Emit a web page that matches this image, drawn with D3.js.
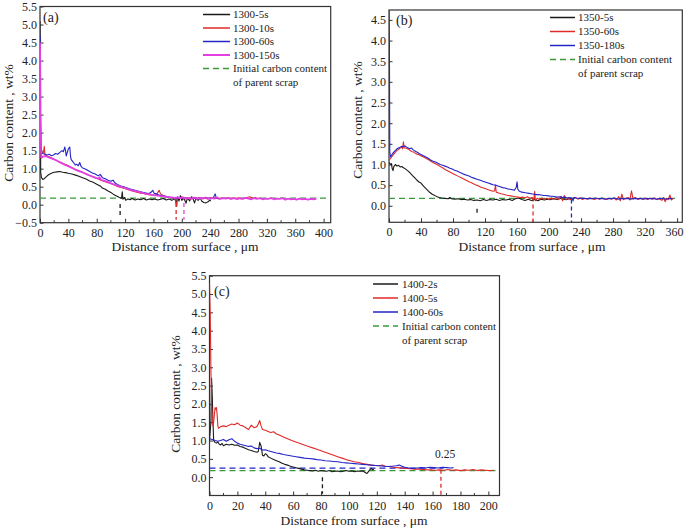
<!DOCTYPE html>
<html><head><meta charset="utf-8">
<script src="https://cdn.jsdelivr.net/npm/d3@7"></script>
<style>body{margin:0;background:#fff}svg{display:block}svg text{font-family:"Liberation Serif","DejaVu Serif","Times New Roman",serif !important;fill:#222}</style>
</head><body><svg id="c" width="685" height="528"></svg>
<script>
// ---------- tick labels ----------
const xTicksA = [0,40,80,120,160,200,240,280,320,360,400];
const xTicksB = [0,40,80,120,160,200,240,280,320,360];
const xTicksC = [0,20,40,60,80,100,120,140,160,180,200];
const yTicksA = [-0.5,0.0,0.5,1.0,1.5,2.0,2.5,3.0,3.5,4.0,4.5,5.0,5.5];
const yTicksB = [0.0,0.5,1.0,1.5,2.0,2.5,3.0,3.5,4.0,4.5];
const yTicksC = [0.0,0.5,1.0,1.5,2.0,2.5,3.0,3.5,4.0,4.5,5.0,5.5];

// ---------- series names ----------
const namesA = ["1300-5s","1300-10s","1300-60s","1300-150s"];
const namesB = ["1350-5s","1350-60s","1350-180s"];
const namesC = ["1400-2s","1400-5s","1400-60s"];
const initialLabel = ["Initial carbon content","of parent scrap"];
const initialCarbon = 0.18;
const refLevelC = 0.25;

// ---------- panel (a) data ----------
const a5s = [[0,5.1],[0.5,3.0],[1,0.9],[2,0.75],[4,0.7],[6,0.72],[9,0.78],[12,0.83],[16,0.87],[20,0.9],[24,0.91],[28,0.92],[32,0.9],[36,0.89],[40,0.87],[45,0.85],[50,0.82],[55,0.79],[60,0.75],[65,0.71],[70,0.66],[75,0.62],[80,0.57],[85,0.52],[88,0.46],[92,0.43],[96,0.38],[100,0.34],[104,0.28],[108,0.24],[112,0.2],[115,0.18],[116,0.36],[117,0.15],[119,0.2],[121,0.12],[124,0.16],[127,0.14],[130,0.17],[134,0.13],[138,0.16],[142,0.14],[146,0.17],[150,0.13],[154,0.16],[158,0.14],[162,0.16],[166,0.13],[170,0.15],[174,0.17],[178,0.13],[182,0.16],[186,0.12],[190,0.17],[192,0.05],[194,0.22],[196,0.1],[198,0.25],[200,0.12],[203,0.18],[206,0.04],[208,0.2],[211,0.1],[214,0.22],[216,0.15],[218,0.05],[220,0.18],[223,0.12],[226,0.2],[228,0.1],[231,0.06],[234,0.05],[237,0.08],[239,0.12],[241,0.1]];
const a10s = [[0,1.3],[0.5,2.8],[1.2,2.0],[2,1.5],[3,1.42],[5,1.45],[6,1.62],[7,1.38],[10,1.35],[14,1.32],[18,1.28],[22,1.24],[26,1.2],[30,1.16],[34,1.13],[38,1.1],[42,1.06],[46,1.02],[50,0.98],[54,0.95],[58,0.92],[62,0.88],[66,0.85],[70,0.81],[74,0.78],[78,0.74],[82,0.72],[86,0.68],[90,0.65],[94,0.62],[98,0.6],[102,0.57],[106,0.54],[110,0.5],[114,0.48],[118,0.46],[122,0.43],[126,0.41],[130,0.38],[134,0.36],[138,0.34],[142,0.32],[146,0.31],[150,0.29],[154,0.28],[158,0.27],[162,0.26],[165,0.3],[168,0.4],[170,0.3],[173,0.26],[176,0.24],[180,0.21],[184,0.2],[188,0.19],[191,0.16],[192,0.0],[193,-0.05],[194,0.2],[197,0.17],[200,0.22],[204,0.16],[208,0.2],[212,0.15],[216,0.19],[220,0.16],[224,0.2],[228,0.17],[232,0.19],[236,0.16],[240,0.2],[244,0.17],[248,0.19],[252,0.16],[256,0.18],[260,0.17],[264,0.19],[268,0.16],[272,0.18],[276,0.17],[280,0.19],[284,0.16],[288,0.18],[292,0.2],[296,0.22],[300,0.17],[304,0.2],[306,0.18]];
const a60s = [[0,4.7],[0.5,3.0],[1,1.7],[2,1.45],[4,1.42],[7,1.4],[10,1.38],[13,1.4],[16,1.36],[19,1.38],[22,1.42],[25,1.4],[28,1.45],[31,1.5],[33,1.47],[35,1.6],[36,1.5],[37,1.35],[38,1.42],[40,1.55],[42,1.6],[43,1.35],[44,1.25],[46,1.2],[48,1.15],[50,1.1],[52,1.12],[54,1.08],[56,1.17],[58,1.06],[60,1.02],[63,1.0],[66,0.97],[70,0.92],[74,0.88],[78,0.85],[82,0.8],[85,0.84],[88,0.75],[92,0.72],[96,0.68],[100,0.65],[103,0.68],[106,0.6],[110,0.55],[114,0.52],[118,0.5],[122,0.47],[126,0.44],[130,0.42],[134,0.4],[138,0.38],[142,0.36],[146,0.34],[150,0.32],[154,0.31],[157,0.35],[159,0.4],[161,0.32],[164,0.3],[168,0.27],[172,0.25],[176,0.23],[180,0.21],[184,0.2],[188,0.19],[192,0.18],[196,0.19],[200,0.17],[204,0.19],[208,0.16],[212,0.18],[216,0.17],[220,0.19],[224,0.16],[228,0.18],[232,0.17],[236,0.19],[240,0.16],[244,0.18],[247,0.3],[249,0.17],[252,0.18]];
const a150s = [[0,4.5],[0.4,3.5],[0.8,2.2],[1.5,1.5],[2,1.3],[4,1.33],[7,1.35],[10,1.33],[14,1.3],[18,1.27],[22,1.24],[26,1.2],[30,1.16],[34,1.12],[38,1.08],[42,1.05],[46,1.01],[50,0.97],[54,0.94],[58,0.91],[62,0.88],[66,0.84],[70,0.81],[74,0.78],[78,0.75],[82,0.72],[84,0.76],[86,0.69],[90,0.67],[94,0.64],[98,0.61],[102,0.58],[106,0.55],[110,0.52],[114,0.5],[118,0.47],[122,0.45],[126,0.42],[130,0.4],[134,0.38],[138,0.36],[142,0.34],[146,0.32],[150,0.3],[154,0.29],[158,0.27],[162,0.26],[166,0.25],[170,0.24],[174,0.23],[178,0.22],[182,0.21],[186,0.2],[190,0.19],[194,0.2],[198,0.18],[202,0.2],[206,0.17],[210,0.19],[214,0.17],[218,0.2],[222,0.16],[226,0.19],[230,0.17],[234,0.2],[238,0.16],[242,0.19],[246,0.17],[250,0.2],[254,0.16],[258,0.18],[262,0.17],[266,0.19],[270,0.16],[274,0.18],[278,0.15],[282,0.18],[286,0.16],[290,0.19],[294,0.17],[298,0.15],[302,0.18],[306,0.16],[310,0.18],[314,0.15],[318,0.17],[322,0.16],[326,0.18],[330,0.15],[334,0.17],[338,0.16],[342,0.18],[346,0.14],[350,0.17],[354,0.15],[358,0.16],[362,0.14],[366,0.17],[370,0.15],[374,0.16],[378,0.14],[382,0.16],[386,0.15],[390,0.17]];
const markersA = [113,192,203];

// ---------- panel (b) data ----------
const b5s = [[0,1.05],[2,1.0],[3,1.02],[4,0.9],[5,0.85],[6,0.95],[8,1.0],[10,0.96],[12,0.98],[14,0.94],[16,0.95],[18,0.92],[20,0.9],[22,0.87],[24,0.84],[26,0.8],[28,0.76],[30,0.72],[32,0.68],[34,0.64],[36,0.6],[38,0.57],[40,0.55],[42,0.5],[44,0.46],[46,0.42],[48,0.38],[50,0.34],[52,0.31],[54,0.28],[56,0.26],[58,0.24],[60,0.22],[63,0.2],[66,0.19],[70,0.18],[74,0.17],[76,0.2],[78,0.17],[82,0.16],[86,0.17],[90,0.15],[94,0.16],[98,0.14],[102,0.15],[106,0.13],[110,0.14],[114,0.12],[118,0.15],[122,0.13],[126,0.15],[130,0.14],[134,0.16],[138,0.13],[142,0.15],[146,0.14],[150,0.16],[154,0.13],[158,0.17],[162,0.19],[166,0.15],[170,0.13],[174,0.16],[178,0.13],[182,0.15],[186,0.12],[190,0.16],[194,0.14],[198,0.16],[202,0.15],[206,0.17],[210,0.15],[214,0.18],[218,0.16],[222,0.15],[226,0.17],[230,0.16]];
const b60s = [[0,1.1],[2,1.15],[4,1.2],[6,1.25],[8,1.3],[10,1.34],[12,1.37],[14,1.4],[16,1.42],[17,1.38],[18,1.55],[19,1.4],[21,1.4],[23,1.38],[25,1.36],[27,1.33],[29,1.31],[31,1.3],[33,1.27],[35,1.25],[37,1.24],[39,1.22],[41,1.2],[43,1.18],[46,1.15],[49,1.12],[52,1.08],[55,1.05],[58,1.02],[61,0.99],[64,0.95],[67,0.92],[70,0.88],[73,0.85],[76,0.82],[79,0.79],[82,0.76],[85,0.73],[88,0.7],[91,0.67],[94,0.64],[97,0.61],[100,0.58],[103,0.56],[106,0.53],[109,0.5],[112,0.48],[115,0.45],[118,0.43],[121,0.41],[124,0.39],[127,0.37],[130,0.35],[132,0.36],[133,0.5],[134,0.33],[137,0.31],[140,0.29],[143,0.28],[146,0.26],[149,0.25],[152,0.24],[155,0.23],[158,0.22],[161,0.21],[164,0.2],[167,0.21],[170,0.19],[173,0.22],[176,0.18],[179,0.2],[181,0.14],[182,0.35],[183,0.12],[185,0.18],[188,0.15],[191,0.19],[194,0.16],[197,0.18],[200,0.15],[203,0.19],[206,0.16],[209,0.2],[212,0.15],[215,0.23],[217,0.12],[219,0.25],[221,0.15],[224,0.19],[227,0.15],[230,0.18],[233,0.2],[236,0.16],[239,0.19],[242,0.15],[245,0.18],[248,0.16],[251,0.19],[254,0.17],[257,0.15],[260,0.18],[263,0.16],[266,0.19],[269,0.17],[272,0.15],[275,0.18],[278,0.16],[281,0.19],[284,0.14],[287,0.22],[289,0.12],[291,0.28],[293,0.15],[296,0.18],[299,0.2],[301,0.14],[303,0.36],[305,0.16],[308,0.2],[311,0.15],[314,0.18],[317,0.16],[320,0.19],[323,0.15],[326,0.18],[329,0.16],[332,0.19],[335,0.15],[338,0.17],[341,0.13],[343,0.2],[345,0.1],[347,0.18],[349,0.15],[351,0.26],[353,0.14],[355,0.18]];
const b180s = [[0,4.75],[0.5,4.0],[1,1.3],[2,1.18],[4,1.25],[6,1.3],[8,1.34],[10,1.38],[12,1.4],[14,1.42],[16,1.44],[18,1.43],[20,1.45],[22,1.42],[24,1.4],[26,1.38],[28,1.4],[30,1.36],[32,1.33],[34,1.31],[36,1.29],[38,1.26],[40,1.24],[43,1.21],[46,1.18],[49,1.15],[52,1.11],[55,1.08],[58,1.06],[61,1.03],[64,1.0],[67,0.98],[70,0.96],[73,0.94],[76,0.91],[79,0.89],[82,0.86],[85,0.84],[88,0.81],[91,0.79],[94,0.76],[97,0.74],[100,0.72],[103,0.69],[106,0.67],[109,0.65],[112,0.63],[115,0.61],[118,0.59],[121,0.57],[124,0.55],[127,0.53],[130,0.51],[133,0.5],[136,0.48],[139,0.46],[142,0.44],[145,0.43],[148,0.41],[151,0.4],[154,0.39],[157,0.38],[159,0.45],[160,0.58],[161,0.4],[163,0.35],[166,0.33],[169,0.32],[172,0.31],[175,0.3],[178,0.29],[181,0.28],[184,0.27],[187,0.27],[190,0.26],[193,0.25],[196,0.25],[199,0.24],[202,0.23],[205,0.23],[208,0.22],[211,0.21],[214,0.22],[217,0.2],[220,0.21],[223,0.19],[226,0.2],[229,0.18],[230,0.12],[231,0.2],[234,0.19],[238,0.18],[242,0.19],[246,0.17],[250,0.18],[254,0.17],[258,0.19],[262,0.17],[266,0.18],[270,0.16],[274,0.18],[278,0.17],[282,0.19],[286,0.16],[290,0.18],[294,0.17],[298,0.18],[302,0.16],[306,0.18],[310,0.17],[314,0.18],[318,0.16],[322,0.18],[326,0.17],[330,0.18],[334,0.16],[338,0.18],[342,0.17],[346,0.16],[350,0.18],[354,0.17]];
const markersB = [110,180,228];

// ---------- panel (c) data ----------
const c2s = [[0,1.0],[1,1.5],[1.5,2.7],[2,2.2],[2.5,1.5],[3,1.0],[4,0.95],[5,0.93],[6,0.96],[7,0.9],[8,0.88],[9,0.92],[10,0.86],[12,0.9],[14,0.88],[16,0.9],[18,0.87],[20,0.88],[22,0.84],[24,0.82],[26,0.78],[28,0.75],[30,0.73],[32,0.7],[34,0.68],[35,0.7],[36,0.95],[37,0.85],[38,0.6],[39,0.58],[40,0.64],[41,0.62],[42,0.56],[44,0.52],[46,0.48],[48,0.45],[50,0.42],[52,0.38],[54,0.35],[56,0.33],[58,0.3],[60,0.28],[62,0.26],[64,0.24],[66,0.22],[68,0.2],[70,0.19],[72,0.18],[74,0.17],[76,0.19],[78,0.16],[80,0.18],[82,0.17],[84,0.16],[86,0.18],[88,0.15],[90,0.16],[92,0.17],[94,0.15],[96,0.16],[98,0.18],[100,0.16],[102,0.17],[104,0.15],[106,0.17],[108,0.16],[110,0.17],[112,0.12],[113,0.1],[114,0.15],[115,0.2],[116,0.24],[117,0.2],[118,0.22]];
const c5s = [[0,5.3],[0.5,4.5],[1,3.0],[1.5,2.0],[2,1.5],[2.5,1.4],[3,1.5],[3.5,1.7],[4,1.9],[4.5,1.85],[5,1.9],[5.5,1.7],[6,1.4],[6.5,1.33],[8,1.38],[10,1.4],[12,1.38],[14,1.42],[16,1.45],[18,1.43],[20,1.48],[22,1.42],[24,1.4],[26,1.35],[28,1.3],[30,1.42],[32,1.35],[34,1.38],[35,1.45],[36,1.55],[37,1.4],[38,1.3],[40,1.28],[42,1.25],[44,1.22],[46,1.24],[48,1.18],[50,1.15],[53,1.1],[56,1.05],[59,1.0],[62,0.96],[65,0.92],[68,0.88],[71,0.84],[74,0.8],[77,0.76],[80,0.72],[83,0.68],[86,0.64],[89,0.6],[92,0.56],[95,0.52],[98,0.48],[101,0.45],[104,0.42],[107,0.4],[110,0.37],[113,0.35],[116,0.33],[119,0.32],[122,0.31],[124,0.33],[126,0.3],[129,0.29],[132,0.27],[135,0.26],[138,0.25],[141,0.24],[144,0.23],[147,0.22],[150,0.22],[153,0.21],[156,0.2],[159,0.2],[162,0.19],[165,0.2],[168,0.19],[171,0.21],[174,0.19],[177,0.2],[180,0.18],[183,0.2],[186,0.19],[189,0.21],[192,0.18],[195,0.2],[198,0.19],[201,0.18],[204,0.19]];
const c60s = [[0,1.05],[2,1.03],[4,1.0],[6,0.98],[8,1.0],[10,1.03],[12,0.98],[14,1.02],[16,1.05],[18,0.98],[20,0.93],[22,0.9],[24,0.88],[26,0.86],[28,0.84],[30,0.85],[32,0.8],[34,0.78],[36,0.79],[38,0.74],[40,0.75],[42,0.72],[44,0.7],[46,0.68],[48,0.66],[50,0.65],[53,0.62],[56,0.6],[59,0.58],[62,0.56],[65,0.54],[68,0.52],[71,0.51],[74,0.5],[77,0.48],[80,0.47],[83,0.45],[86,0.44],[89,0.43],[92,0.42],[95,0.4],[98,0.39],[101,0.38],[104,0.37],[107,0.36],[110,0.35],[113,0.34],[116,0.33],[119,0.32],[122,0.31],[125,0.3],[128,0.29],[131,0.3],[134,0.31],[136,0.33],[138,0.3],[140,0.27],[143,0.25],[146,0.24],[149,0.25],[152,0.26],[155,0.25],[158,0.27],[161,0.26],[164,0.25],[167,0.27],[170,0.26],[173,0.25],[175,0.26]];
const markersC = [81,166];

// ---------- styling ----------
const BLACK="#1a1a1a", RED="#e02a2a", BLUE="#2424c8", MAG="#e33fe3", GREEN="#3a9a3a";
const FONT = '"Liberation Serif","DejaVu Serif","Times New Roman",serif';
const svg = d3.select("#c").attr("font-family",FONT);

function txt(sel,size){ return sel.attr("font-family",FONT).style("font-family",FONT).style("font-size",size+"px"); }

function panel(o){
  const x = d3.scaleLinear().domain(o.xd).range([o.l,o.r]);
  const y = d3.scaleLinear().domain(o.yd).range([o.b,o.t]);
  const g = svg.append("g");
  g.append("rect").attr("x",o.l).attr("y",o.t).attr("width",o.r-o.l).attr("height",o.b-o.t)
    .attr("fill","none").attr("stroke","#333").attr("stroke-width",1.2);
  const xa = d3.axisBottom(x).tickValues(o.xt).tickSize(-4).tickFormat(d=>d);
  const gx = g.append("g").attr("transform",`translate(0,${o.b})`).call(xa);
  gx.attr("font-family",FONT);
  gx.select(".domain").remove();
  txt(gx.selectAll("text").attr("dy",null).attr("y",14),12);
  if(o.lastDx) gx.selectAll("text").filter((d,i,n)=>i===n.length-1).attr("dx",o.lastDx);
  gx.selectAll("line").attr("stroke","#333");
  const minor = [];
  for(let i=0;i<o.xt.length-1;i++) minor.push((o.xt[i]+o.xt[i+1])/2);
  g.selectAll(null).data(minor).enter().append("line")
    .attr("x1",d=>x(d)).attr("x2",d=>x(d)).attr("y1",o.b).attr("y2",o.b-2.5).attr("stroke","#333");
  const ya = d3.axisLeft(y).tickValues(o.yt).tickSize(-3.5).tickFormat(d3.format(".1f"));
  const gy = g.append("g").attr("transform",`translate(${o.l},0)`).call(ya);
  gy.attr("font-family",FONT);
  gy.select(".domain").remove();
  txt(gy.selectAll("text").attr("x",-3),12);
  gy.selectAll("line").attr("stroke","#333");
  txt(g.append("text").attr("x",o.xtx).attr("y",o.xty).attr("text-anchor","middle"),13.5)
    .text("Distance from surface , μm");
  txt(g.append("text").attr("transform",`translate(${o.ytx},${o.yty}) rotate(-90)`).attr("text-anchor","middle")
    .attr("dy","0.35em"),13.5).text("Carbon content , wt%");
  txt(g.append("text").attr("x",o.lab[0]).attr("y",o.lab[1]),14).text(o.label);
  const cid = "clip"+o.label.replace(/\W/g,"");
  svg.append("clipPath").attr("id",cid).append("rect").attr("x",o.l).attr("y",o.t).attr("width",o.r-o.l).attr("height",o.b-o.t);
  const plot = g.append("g").attr("clip-path",`url(#${cid})`);
  const line = d3.line().x(d=>x(d[0])).y(d=>y(d[1]));
  plot.append("line").attr("x1",x(0)).attr("x2",x(o.greenEnd)).attr("y1",y(initialCarbon)).attr("y2",y(initialCarbon))
    .attr("stroke",GREEN).attr("stroke-width",1.3).attr("stroke-dasharray","6,4");
  o.markers.forEach((m,i)=>{
    plot.append("line").attr("x1",x(m)).attr("x2",x(m)).attr("y1",y(o.mTop[i])).attr("y2",y(o.mBot[i]))
      .attr("stroke",o.mCol[i]).attr("stroke-width",1.3).attr("stroke-dasharray","4,3");
  });
  if(o.extra) o.extra(plot,x,y);
  o.series.forEach(s=>{
    plot.append("path").datum(s.d).attr("d",line).attr("fill","none").attr("stroke",s.c)
      .attr("stroke-width",s.w||1.1).attr("stroke-linejoin","round");
  });
  const L = o.leg;
  o.series.forEach((s,i)=>{
    const yy = L.y0 + i*L.dy;
    g.append("line").attr("x1",L.x0).attr("x2",L.x1).attr("y1",yy).attr("y2",yy).attr("stroke",s.c).attr("stroke-width",s.w?2:1.5);
    txt(g.append("text").attr("x",L.tx).attr("y",yy).attr("dy","0.35em"),11).text(s.n);
  });
  const yy = L.y0 + o.series.length*L.dy;
  g.append("line").attr("x1",L.x0).attr("x2",L.x1).attr("y1",yy).attr("y2",yy).attr("stroke",GREEN).attr("stroke-width",1.5).attr("stroke-dasharray","6,4");
  txt(g.append("text").attr("x",L.tx).attr("y",yy).attr("dy","0.35em"),11).text(initialLabel[0]);
  txt(g.append("text").attr("x",L.tx).attr("y",yy+L.dy).attr("dy","0.35em"),11).text(initialLabel[1]);
}

panel({label:"(a)", l:40, r:330.7, t:6.5, b:222.7, xd:[0,410], yd:[-0.5,5.5], xt:xTicksA, yt:yTicksA,
  xtx:185, xty:251, ytx:8, yty:123, lab:[43,22], greenEnd:405,
  markers:markersA, mTop:[0.02,0.05,0.05], mBot:[-0.35,-0.42,-0.42], mCol:[BLACK,RED,MAG],
  series:[{n:namesA[0],d:a5s,c:BLACK},{n:namesA[1],d:a10s,c:RED},{n:namesA[2],d:a60s,c:BLUE},{n:namesA[3],d:a150s,c:MAG,w:1.8}],
  leg:{x0:203,x1:230,tx:233,y0:14.5,dy:13.5}});

panel({label:"(b)", l:389, r:682.3, t:10, b:222.3, xd:[0,366.5], yd:[-0.4,4.74], xt:xTicksB, yt:yTicksB,
  xtx:532, xty:251, ytx:357, yty:120, lab:[396,25], greenEnd:360, lastDx:-3,
  markers:markersB, mTop:[-0.07,0.2,0.15], mBot:[-0.2,-0.42,-0.42], mCol:[BLACK,RED,BLUE],
  series:[{n:namesB[0],d:b5s,c:BLACK},{n:namesB[1],d:b60s,c:RED},{n:namesB[2],d:b180s,c:BLUE}],
  leg:{x0:550,x1:575,tx:578,y0:17.5,dy:14}});

panel({label:"(c)", l:209.5, r:499.5, t:275.7, b:495.5, xd:[0,208], yd:[-0.5,5.5], xt:xTicksC, yt:yTicksC,
  xtx:354, xty:525, ytx:175, yty:394, lab:[214,296], greenEnd:208,
  markers:markersC, mTop:[0.0,0.2], mBot:[-0.45,-0.5], mCol:[BLACK,RED],
  extra:(p,x,y)=>{
    p.append("line").attr("x1",x(0)).attr("x2",x(168)).attr("y1",y(refLevelC)).attr("y2",y(refLevelC))
      .attr("stroke",BLUE).attr("stroke-width",1.3).attr("stroke-dasharray","6,4");
    txt(svg.append("text").attr("x",x(169)).attr("y",y(refLevelC)-10).attr("text-anchor","middle"),11.5).text(d3.format(".2f")(refLevelC));
  },
  series:[{n:namesC[0],d:c2s,c:BLACK},{n:namesC[1],d:c5s,c:RED},{n:namesC[2],d:c60s,c:BLUE}],
  leg:{x0:373,x1:398,tx:402,y0:284,dy:14}});
</script></body></html>
